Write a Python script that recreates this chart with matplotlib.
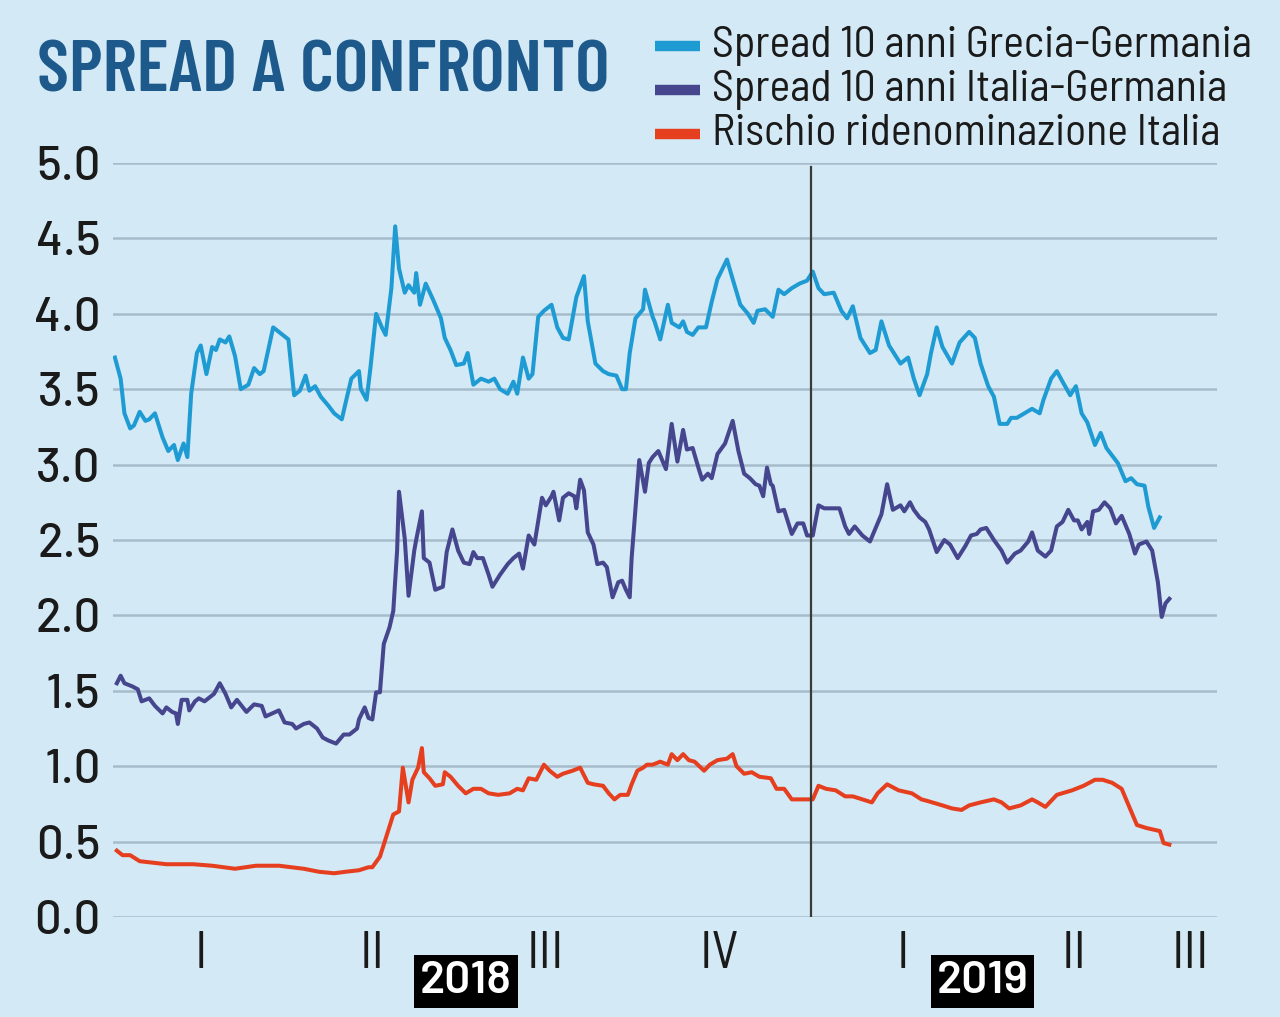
import pandas as pd
import matplotlib.pyplot as plt
from matplotlib.lines import Line2D
import matplotlib.transforms as mtransforms

# days from 2018-01-01, values in percentage points
gr_day = [0, 3, 5, 8, 10, 13, 16, 18, 21, 25, 28, 31, 33, 36, 38, 40, 43, 45, 48, 51,
          53, 55, 58, 60, 63, 66, 70, 73, 76, 78, 83, 86, 91, 94, 97, 100, 102, 105, 108, 112,
          115, 119, 121, 124, 128, 129, 132, 134, 137, 140, 142, 145, 147, 149, 152, 154, 157, 158, 160, 163,
          167, 171, 173, 176, 179, 183, 185, 188, 192, 196, 199, 202, 206, 209, 211, 214, 217, 219, 222, 225,
          229, 232, 235, 238, 242, 246, 248, 252, 256, 259, 263, 266, 268, 270, 273, 277, 278, 282, 283, 286,
          290, 292, 296, 298, 300, 303, 306, 310, 313, 316, 321, 324, 328, 332, 335, 337, 341, 345, 348, 351,
          355, 359, 363, 366, 369, 372, 377, 381, 384, 387, 391, 396, 399, 402, 406, 412, 416, 419, 422, 426,
          428, 431, 434, 439, 443, 448, 451, 454, 458, 461, 464, 468, 470, 473, 477, 481, 485, 487, 491, 494,
          497, 501, 504, 507, 510, 514, 517, 520, 526, 530, 533, 536, 540, 542, 545, 548]
gr_val = [3.71, 3.57, 3.34, 3.24, 3.26, 3.35, 3.29, 3.30, 3.34, 3.18, 3.09, 3.13, 3.03, 3.14, 3.05, 3.47, 3.74, 3.79, 3.60, 3.78,
          3.76, 3.83, 3.81, 3.85, 3.72, 3.50, 3.53, 3.64, 3.60, 3.62, 3.91, 3.88, 3.83, 3.46, 3.49, 3.59, 3.49, 3.52, 3.45, 3.39,
          3.34, 3.30, 3.41, 3.57, 3.62, 3.50, 3.43, 3.64, 4.00, 3.91, 3.86, 4.17, 4.58, 4.30, 4.14, 4.19, 4.14, 4.27, 4.06, 4.20,
          4.09, 3.97, 3.84, 3.76, 3.66, 3.67, 3.74, 3.53, 3.57, 3.55, 3.57, 3.50, 3.47, 3.55, 3.47, 3.71, 3.57, 3.60, 3.98, 4.02,
          4.06, 3.91, 3.84, 3.83, 4.11, 4.25, 3.95, 3.67, 3.62, 3.60, 3.59, 3.50, 3.50, 3.74, 3.97, 4.03, 4.16, 3.98, 3.95, 3.83,
          4.06, 3.94, 3.91, 3.95, 3.88, 3.86, 3.91, 3.91, 4.08, 4.23, 4.36, 4.23, 4.06, 4.00, 3.94, 4.02, 4.03, 3.98, 4.16, 4.13,
          4.17, 4.20, 4.22, 4.28, 4.17, 4.13, 4.14, 4.02, 3.97, 4.05, 3.84, 3.74, 3.76, 3.95, 3.79, 3.67, 3.71, 3.57, 3.46, 3.60,
          3.74, 3.91, 3.78, 3.67, 3.81, 3.88, 3.84, 3.67, 3.52, 3.45, 3.27, 3.27, 3.31, 3.31, 3.34, 3.37, 3.34, 3.43, 3.57, 3.62,
          3.55, 3.46, 3.52, 3.34, 3.28, 3.13, 3.21, 3.11, 3.01, 2.89, 2.91, 2.87, 2.86, 2.72, 2.58, 2.65]

it_day = [1, 3, 5, 9, 12, 14, 18, 21, 25, 27, 30, 32, 33, 35, 38, 39, 42, 44, 47, 52,
          55, 58, 61, 64, 69, 73, 77, 79, 86, 89, 93, 95, 99, 102, 106, 109, 112, 116, 120, 123,
          127, 128, 131, 133, 135, 137, 139, 141, 144, 146, 148, 149, 152, 154, 157, 158, 161, 162, 165, 168,
          172, 174, 177, 180, 183, 186, 188, 190, 193, 196, 198, 202, 206, 209, 212, 214, 217, 220, 224, 226,
          229, 230, 233, 235, 238, 241, 242, 244, 246, 248, 251, 253, 256, 258, 261, 264, 266, 268, 270, 271,
          275, 278, 280, 282, 285, 289, 292, 295, 298, 300, 303, 306, 308, 311, 313, 316, 320, 324, 327, 330,
          333, 336, 338, 340, 342, 344, 345, 348, 351, 355, 358, 361, 363, 366, 369, 372, 376, 380, 383, 385,
          388, 392, 396, 399, 402, 405, 408, 412, 414, 417, 419, 422, 425, 427, 431, 435, 438, 442, 446, 449,
          452, 454, 457, 461, 465, 468, 472, 475, 479, 481, 484, 488, 491, 494, 497, 500, 503, 505, 507, 510,
          511, 513, 516, 519, 522, 525, 528, 532, 535, 537, 541, 544, 547, 549, 551, 553]
it_val = [1.55, 1.60, 1.55, 1.53, 1.51, 1.43, 1.45, 1.40, 1.35, 1.39, 1.36, 1.35, 1.28, 1.44, 1.44, 1.37, 1.43, 1.45, 1.43, 1.48,
          1.55, 1.48, 1.39, 1.44, 1.36, 1.41, 1.40, 1.33, 1.37, 1.29, 1.28, 1.25, 1.28, 1.29, 1.25, 1.19, 1.17, 1.15, 1.21, 1.21,
          1.25, 1.31, 1.39, 1.32, 1.31, 1.49, 1.49, 1.81, 1.92, 2.03, 2.43, 2.82, 2.51, 2.13, 2.43, 2.50, 2.69, 2.38, 2.35, 2.17,
          2.19, 2.42, 2.57, 2.43, 2.35, 2.34, 2.42, 2.38, 2.38, 2.27, 2.19, 2.27, 2.34, 2.38, 2.41, 2.31, 2.53, 2.47, 2.78, 2.73,
          2.79, 2.82, 2.63, 2.78, 2.81, 2.79, 2.71, 2.90, 2.83, 2.55, 2.47, 2.34, 2.35, 2.32, 2.12, 2.22, 2.23, 2.17, 2.12, 2.38,
          3.03, 2.82, 3.01, 3.05, 3.09, 2.97, 3.27, 3.02, 3.23, 3.10, 3.11, 2.98, 2.90, 2.94, 2.91, 3.07, 3.14, 3.29, 3.09, 2.94,
          2.91, 2.87, 2.86, 2.79, 2.98, 2.87, 2.86, 2.69, 2.70, 2.54, 2.61, 2.61, 2.53, 2.53, 2.73, 2.71, 2.71, 2.71, 2.59, 2.54,
          2.59, 2.53, 2.49, 2.58, 2.67, 2.87, 2.70, 2.73, 2.69, 2.75, 2.70, 2.65, 2.62, 2.57, 2.42, 2.50, 2.47, 2.38, 2.46, 2.53,
          2.54, 2.57, 2.58, 2.50, 2.43, 2.35, 2.41, 2.43, 2.49, 2.55, 2.43, 2.39, 2.43, 2.59, 2.62, 2.70, 2.63, 2.63, 2.57, 2.62,
          2.54, 2.69, 2.70, 2.75, 2.71, 2.61, 2.66, 2.54, 2.41, 2.47, 2.49, 2.43, 2.22, 1.99, 2.08, 2.11]

rd_day = [1, 4, 8, 13, 20, 27, 34, 41, 51, 63, 74, 86, 99, 107, 115, 121, 128, 133, 135, 139,
          141, 144, 146, 149, 151, 154, 156, 159, 161, 162, 165, 168, 172, 173, 176, 180, 184, 188, 192, 196,
          201, 207, 211, 214, 217, 221, 225, 228, 232, 235, 240, 244, 248, 251, 256, 259, 262, 265, 269, 271,
          274, 277, 279, 282, 286, 290, 292, 295, 298, 301, 304, 309, 312, 316, 321, 324, 326, 330, 334, 338,
          344, 347, 351, 355, 360, 366, 369, 373, 378, 383, 387, 392, 397, 400, 405, 411, 418, 423, 426, 434,
          439, 444, 448, 454, 461, 465, 469, 475, 481, 484, 488, 494, 502, 508, 514, 518, 523, 528, 532, 536,
          541, 548, 550, 553]
rd_val = [0.44, 0.41, 0.41, 0.37, 0.36, 0.35, 0.35, 0.35, 0.34, 0.32, 0.34, 0.34, 0.32, 0.30, 0.29, 0.30, 0.31, 0.33, 0.33, 0.40,
          0.48, 0.60, 0.68, 0.70, 0.99, 0.76, 0.91, 0.99, 1.12, 0.96, 0.92, 0.87, 0.88, 0.96, 0.93, 0.87, 0.82, 0.85, 0.85, 0.82,
          0.81, 0.82, 0.85, 0.84, 0.92, 0.91, 1.01, 0.97, 0.93, 0.95, 0.97, 0.99, 0.89, 0.88, 0.87, 0.82, 0.78, 0.81, 0.81, 0.88,
          0.97, 0.99, 1.01, 1.01, 1.03, 1.01, 1.08, 1.04, 1.08, 1.04, 1.03, 0.97, 1.01, 1.04, 1.05, 1.08, 1.00, 0.95, 0.96, 0.93,
          0.92, 0.85, 0.85, 0.78, 0.78, 0.78, 0.87, 0.85, 0.84, 0.80, 0.80, 0.78, 0.76, 0.82, 0.88, 0.84, 0.82, 0.78, 0.77, 0.74,
          0.72, 0.71, 0.74, 0.76, 0.78, 0.76, 0.72, 0.74, 0.78, 0.76, 0.73, 0.81, 0.84, 0.87, 0.91, 0.91, 0.89, 0.85, 0.73, 0.61,
          0.59, 0.57, 0.49, 0.48]

labels = ['Spread 10 anni Grecia-Germania', 'Spread 10 anni Italia-Germania', 'Rischio ridenominazione Italia']
colours = ['#1f9bd4', '#46468e', '#e63f1f']

# quarter labels and where they sit (days from 2018-01-01)
q_pos = [45, 135, 226, 317, 413, 503, 564]
q_lab = ['I', 'II', 'III', 'IV', 'I', 'II', 'III']
years = ['2018', '2019']
year_pos = [184, 455]

start = pd.Timestamp('2018-01-01')
def to_dates(days):
    return start + pd.to_timedelta(days, unit='D')

bg = '#d3e9f5'
ink = '#1a1a1a'
# DIN-like faces, with fallbacks
f_text = ['Barlow Semi Condensed', 'Barlow', 'PT Sans Narrow', 'DejaVu Sans']
f_nums = ['Barlow', 'Barlow Semi Condensed', 'PT Sans Narrow', 'DejaVu Sans']
f_title = ['Barlow Condensed', 'Oswald', 'PT Sans Narrow', 'DejaVu Sans']
plt.rcParams['font.family'] = f_text

fig = plt.figure(figsize=(12.8, 10.17), dpi=100, facecolor=bg)
ax = fig.add_axes([113/1280, 1 - 917/1017, 1104/1280, 754/1017])
ax.set_facecolor(bg)

for days, vals, lab, col in zip([gr_day, it_day, rd_day], [gr_val, it_val, rd_val], labels, colours):
    ax.plot(to_dates(days), vals, color=col, lw=2.9, label=lab, solid_joinstyle='round')

ax.axvline(to_dates([365])[0], color='#3a3a3a', lw=1.6, ymax=0.995)

ax.set_ylim(0, 5)
ax.set_xlim(to_dates([-1])[0], to_dates([578])[0])
ax.set_yticks([i * 0.5 for i in range(11)])
ax.set_yticklabels(['%.1f' % (i * 0.5) for i in range(11)], fontsize=34, color=ink,
                   family=f_nums, fontweight='medium')
ax.yaxis.grid(True, color='#a7bccb', lw=1.8)
ax.set_axisbelow(True)
ax.set_xticks(to_dates(q_pos))
ax.set_xticklabels(q_lab, fontsize=38, color=ink)
ax.tick_params(length=0)
ax.tick_params(axis='y', pad=9)
ax.tick_params(axis='x', pad=10)
for s in ax.spines.values():
    s.set_visible(False)

trans = mtransforms.blended_transform_factory(ax.transData, ax.transAxes)
for yr, p in zip(years, year_pos):
    ax.text(to_dates([p])[0], -0.085, yr, transform=trans, ha='center', va='center',
            fontsize=33, color='white', fontweight='semibold', family=f_nums,
            bbox=dict(boxstyle='square,pad=0.13', fc='black', ec='none'))

fig.text(37/1280, 1 - 92/1017, 'SPREAD A CONFRONTO', fontsize=53, fontweight='semibold',
         color='#1d5a8b', va='baseline', ha='left', family=f_title)

# legend keys and labels
for i, (lab, col) in enumerate(zip(labels, colours)):
    y = 1 - (46 + 44 * i) / 1017
    fig.add_artist(Line2D([655/1280, 700/1280], [y, y], transform=fig.transFigure,
                          color=col, lw=7.5, solid_capstyle='butt'))
    fig.text(712/1280, y, lab, fontsize=31.5, color=ink, va='center', ha='left')

plt.savefig('out.png', dpi=100, facecolor=bg)
